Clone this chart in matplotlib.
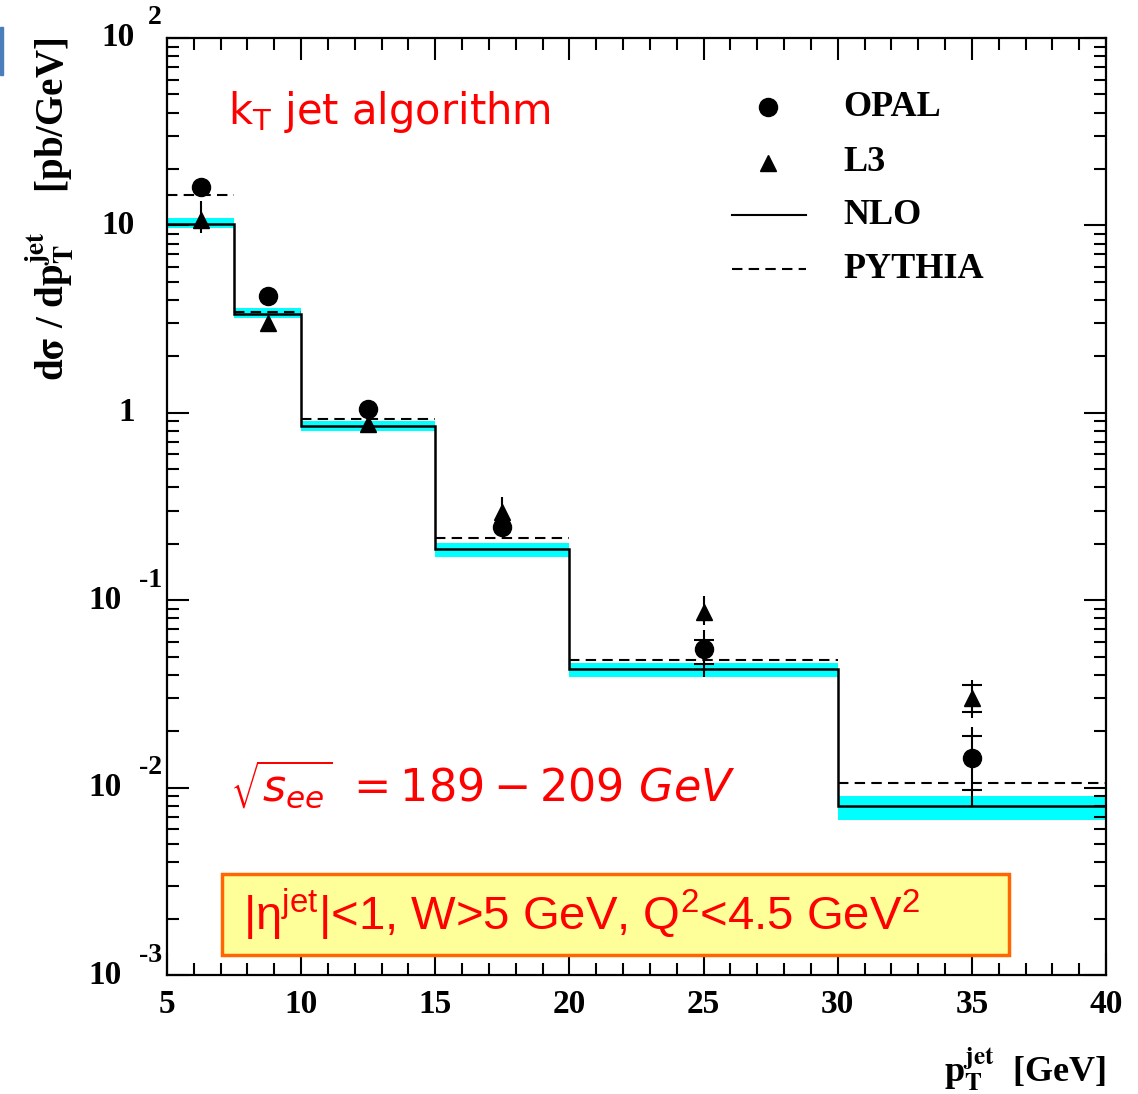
import numpy as np
import matplotlib
matplotlib.use("Agg")
import matplotlib.pyplot as plt
from matplotlib.patches import Rectangle
from matplotlib.lines import Line2D
from matplotlib.ticker import MultipleLocator, LogLocator, NullFormatter
import matplotlib.transforms as mtransforms

plt.rcParams['mathtext.fontset'] = 'custom'
plt.rcParams['mathtext.rm'] = 'Liberation Sans'
plt.rcParams['mathtext.it'] = 'Liberation Sans:italic'
plt.rcParams['mathtext.bf'] = 'Liberation Sans:bold'

# pT bins [GeV]
edges = np.array([5, 7.5, 10, 15, 20, 30, 40])
centres = np.array([6.25, 8.75, 12.5, 17.5, 25, 35])

# NLO prediction with its uncertainty band, PYTHIA, in pb/GeV
nlo = np.array([10.2, 3.35, 0.85, 0.187, 0.043, 0.0080])
nlo_low = np.array([9.7, 3.19, 0.80, 0.171, 0.039, 0.0067])
nlo_high = np.array([10.9, 3.61, 0.906, 0.201, 0.0464, 0.0090])
pythia = np.array([14.5, 3.47, 0.93, 0.214, 0.048, 0.0106])

# OPAL measurement: total and statistical errors
opal = np.array([16.0, 4.2, 1.05, 0.245, 0.055, 0.0144])
opal_tot_lo = np.array([0.6, 0.2, 0.05, 0.02, 0.016, 0.0065])
opal_tot_hi = np.array([0.6, 0.2, 0.05, 0.02, 0.0147, 0.0067])
opal_stat_lo = np.array([0.6, 0.2, 0.05, 0.02, 0.0092, 0.0047])
opal_stat_hi = np.array([0.6, 0.2, 0.05, 0.02, 0.0066, 0.0044])

# L3 measurement
l3 = np.array([10.7, 3.0, 0.87, 0.295, 0.087, 0.030])
l3_tot_lo = np.array([1.6, 0.15, 0.05, 0.05, 0.013, 0.0065])
l3_tot_hi = np.array([2.8, 0.15, 0.05, 0.06, 0.018, 0.0076])
l3_stat_lo = np.array([1.6, 0.15, 0.05, 0.05, 0.013, 0.0047])
l3_stat_hi = np.array([2.8, 0.15, 0.05, 0.06, 0.018, 0.0053])

W, H = 1138, 1094
fig = plt.figure(figsize=(W / 100, H / 100), dpi=100)
ax = fig.add_axes([167 / W, (H - 975) / H, 939 / W, 937 / H])
ax.set_yscale('log')
ax.set_xlim(5, 40)
ax.set_ylim(1e-3, 1e2)

# NLO band and lines
ax.stairs(nlo_high, edges, baseline=nlo_low, fill=True, color='#00ffff', lw=0, zorder=1)
ax.stairs(nlo, edges, baseline=None, color='black', lw=1.8, zorder=2)
ax.hlines(pythia, edges[:-1], edges[1:], colors='black', linestyles=(0, (5, 3)), lw=1.5, zorder=2)


def draw_points(y, tlo, thi, slo, shi, marker, ms):
    ax.errorbar(centres, y, yerr=[tlo, thi], fmt=marker, color='black', ms=ms,
                elinewidth=1.5, capsize=0, zorder=4)
    inner = (slo < tlo) | (shi < thi)
    for vals in (y[inner] + shi[inner], y[inner] - slo[inner]):
        ax.plot(centres[inner], vals, ls='none', marker='_', ms=15, mew=1.5,
                color='black', zorder=4)


draw_points(opal, opal_tot_lo, opal_tot_hi, opal_stat_lo, opal_stat_hi, 'o', 13)
draw_points(l3, l3_tot_lo, l3_tot_hi, l3_stat_lo, l3_stat_hi, '^', 11)

# axes styling
for sp in ax.spines.values():
    sp.set_linewidth(1.6)
ax.xaxis.set_major_locator(MultipleLocator(5))
ax.xaxis.set_minor_locator(MultipleLocator(1))
ax.yaxis.set_major_locator(LogLocator(base=10, numticks=10))
ax.yaxis.set_minor_locator(LogLocator(base=10, subs=np.arange(2, 10), numticks=20))
ax.yaxis.set_minor_formatter(NullFormatter())
ax.tick_params(which='both', direction='in', top=True, right=True, width=1.5,
               labelleft=False)
ax.tick_params(which='major', length=16)
ax.tick_params(which='minor', length=8.5)
ax.tick_params(axis='x', pad=10)
for lab in ax.get_xticklabels():
    lab.set_fontfamily('Liberation Serif')
    lab.set_fontweight('bold')
    lab.set_fontsize(24)

# ROOT-style decade labels on the y axis
ytr = ax.get_yaxis_transform()
for d in range(-3, 3):
    if d == 0 or d == 1:
        ax.text((135 - 167) / 939, 10.0 ** d, '1' if d == 0 else '10', transform=ytr,
                ha='right', va='center', family='Liberation Serif', weight='bold', fontsize=24)
        continue
    base_x = 135 if d > 0 else 122
    ax.text((base_x - 167) / 939, 10.0 ** d, '10', transform=ytr,
            ha='right', va='center', family='Liberation Serif', weight='bold', fontsize=24)
    up = mtransforms.offset_copy(ytr, fig=fig, y=20, units='dots')
    ax.text((162 - 167) / 939, 10.0 ** d, str(d), transform=up,
            ha='right', va='center', family='Liberation Serif', weight='bold', fontsize=20)

ax.text(-0.125, 1.0, r'd$\mathbf{\sigma}$ / dp$_\mathbf{T}^\mathbf{jet}$    [pb/GeV]',
        transform=ax.transAxes, rotation=90, ha='center', va='top',
        family='Liberation Serif', weight='bold', fontsize=28, math_fontfamily='stix')
ax.text(1.0, -0.1, r'p$_\mathbf{T}^\mathbf{jet}$  [GeV]', transform=ax.transAxes,
        ha='right', va='center', family='Liberation Serif', weight='bold', fontsize=26,
        math_fontfamily='stix')

# annotations
ax.text(0.065, 0.921, r'k$_\mathrm{T}$ jet algorithm', transform=ax.transAxes,
        ha='left', va='center', color='red', family='DejaVu Sans', fontsize=30,
        math_fontfamily='dejavusans')
ax.text(0.067, 0.203, r'$\sqrt{s_{ee}}\ =189-209\ \mathit{GeV}$', transform=ax.transAxes,
        ha='left', va='center', color='red', family='DejaVu Sans', fontsize=32,
        math_fontfamily='dejavusans')
ax.add_patch(Rectangle((0.0586, 0.0214), 0.8381, 0.0866, transform=ax.transAxes,
                       facecolor='#ffff99', edgecolor='#ff6600', lw=2.5, zorder=5))
ax.text(0.0813, 0.0653, r'|η$^\mathrm{jet}$|<1, W>5 GeV, Q$^\mathrm{2}$<4.5 GeV$^\mathrm{2}$',
        transform=ax.transAxes, ha='left', va='center', color='red',
        family='Liberation Sans', fontsize=34, zorder=6)

# legend
leg_rows = [0.926, 0.867, 0.811, 0.753]
leg_names = ['OPAL', 'L3', 'NLO', 'PYTHIA']
ax.plot([0.640], [leg_rows[0]], 'o', ms=13, color='black', transform=ax.transAxes)
ax.plot([0.640], [leg_rows[1]], '^', ms=12, color='black', transform=ax.transAxes)
ax.add_line(Line2D([0.602, 0.680], [leg_rows[2]] * 2, color='black', lw=1.5,
                   transform=ax.transAxes))
ax.add_line(Line2D([0.602, 0.680], [leg_rows[3]] * 2, color='black', lw=1.5,
                   ls=(0, (5, 3)), transform=ax.transAxes))
for y, name in zip(leg_rows, leg_names):
    ax.text(0.72, y, name, transform=ax.transAxes, ha='left', va='center',
            family='Liberation Serif', weight='bold', fontsize=26)

fig.patches.append(Rectangle((0, (H - 75) / H), 3 / W, 48 / H, transform=fig.transFigure,
                             color='#4a7ebb'))

fig.savefig('out.png', dpi=100)
